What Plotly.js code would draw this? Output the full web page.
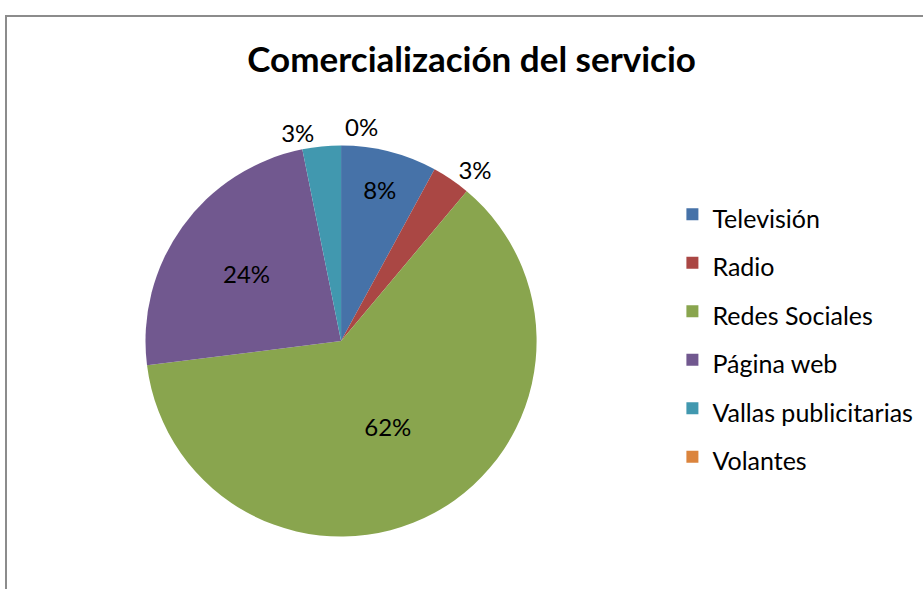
<!DOCTYPE html>
<html>
<head>
<meta charset="utf-8">
<script src="https://cdn.plot.ly/plotly-3.0.1.min.js"></script>
<style>
  html, body { margin: 0; padding: 0; background: #ffffff; }
  #wrap { position: relative; width: 923px; height: 589px; overflow: hidden; }
  #chart { position: absolute; left: 0; top: 0; width: 923px; height: 589px; }
  #frame { position: absolute; left: 5px; top: 15px; width: 1000px; height: 700px;
           border-left: 2px solid #8c8c8c; border-top: 2px solid #8c8c8c; pointer-events: none; }
</style>
</head>
<body>
<div id="wrap">
  <div id="chart"></div>
  <div id="frame"></div>
</div>
<script>
// Data (counts giving the shown percentages)
const categories = ["Televisión", "Radio", "Redes Sociales", "Página web", "Vallas publicitarias", "Volantes"];
const counts = [5, 2, 39, 15, 2, 0];
const sliceColors = ["#4672A8", "#AA4744", "#89A54E", "#71588F", "#4198AF", "#DB843D"];
const textPositions = ["inside", "outside", "inside", "inside", "outside", "inside"];
const chartTitle = "Comercialización del servicio";

const FONT = "Lato, 'Open Sans', sans-serif";

const total = counts.reduce((a, b) => a + b, 0);
const pctText = counts.map(v => Math.round(100 * v / total) + "%");

const trace = {
  type: "pie",
  labels: categories.map(c => "<span style='font-size:25px'>" + c + "</span>"),
  values: counts,
  text: pctText,
  textinfo: "text",
  hoverinfo: "label+percent",
  textposition: textPositions,
  insidetextorientation: "horizontal",
  sort: false,
  direction: "clockwise",
  rotation: 0,
  marker: { colors: sliceColors, line: { width: 0 } },
  textfont: { family: FONT, size: 24, color: "#000000" },
  insidetextfont: { family: FONT, size: 24, color: "#000000" },
  outsidetextfont: { family: FONT, size: 24, color: "#000000" },
  domain: { x: [0.157, 0.582], y: [0.089, 0.753] },
  showlegend: true
};

// label for the zero-valued slice (Plotly does not draw a zero slice's text)
const zeroIdx = counts.indexOf(0);

const layout = {
  width: 923,
  height: 589,
  margin: { l: 0, r: 0, t: 0, b: 0 },
  paper_bgcolor: "#ffffff",
  plot_bgcolor: "#ffffff",
  font: { family: FONT, color: "#000000" },
  title: {
    text: "<b>" + chartTitle + "</b>",
    font: { family: FONT, size: 35, color: "#000000" },
    x: 0.511, xanchor: "center",
    y: 0.898, yanchor: "middle",
    xref: "paper", yref: "container"
  },
  legend: {
    x: 0.7285, xanchor: "left",
    y: 0.686, yanchor: "top",
    valign: "middle",
    font: { family: FONT, size: 35, color: "#000000" },
    bgcolor: "rgba(0,0,0,0)",
    traceorder: "normal"
  },
  annotations: zeroIdx >= 0 ? [{
    text: pctText[zeroIdx],
    xref: "paper", yref: "paper",
    x: 0.392, y: 0.785, xanchor: "center", yanchor: "middle",
    showarrow: false,
    font: { family: FONT, size: 24, color: "#000000" }
  }] : []
};

Plotly.newPlot("chart", [trace], layout, { displayModeBar: false, staticPlot: true });
</script>
</body>
</html>
